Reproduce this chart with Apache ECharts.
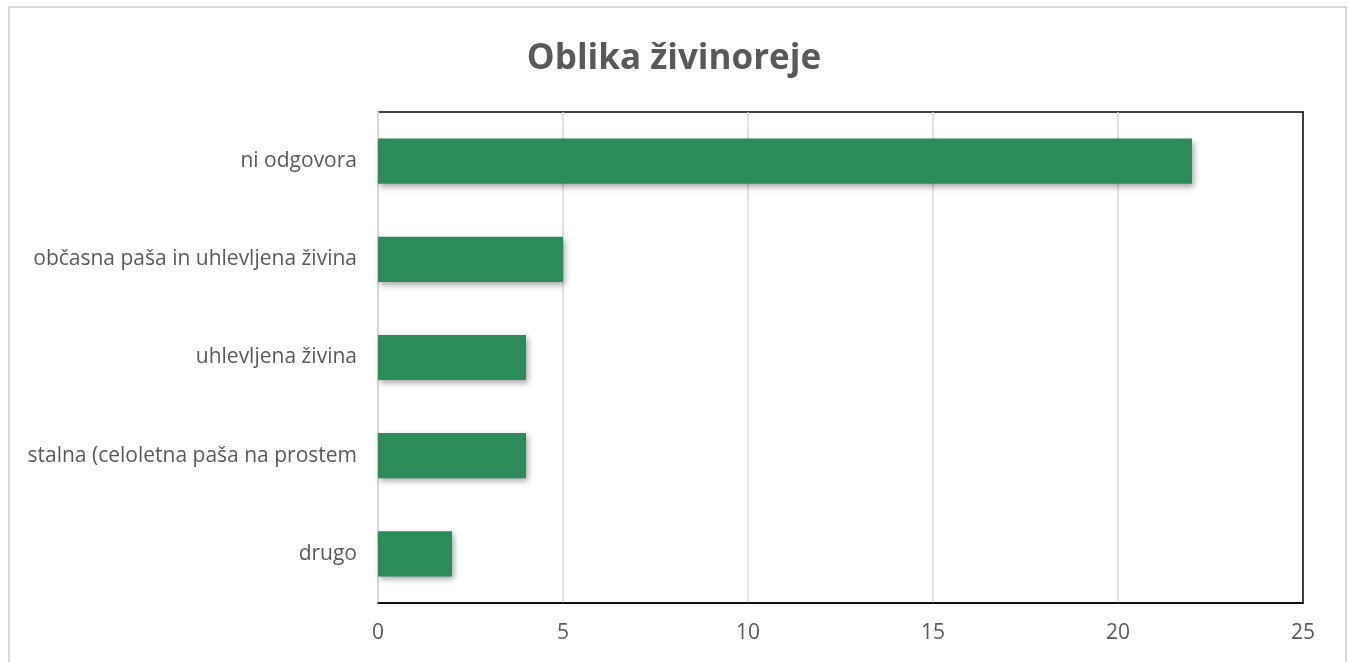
<!DOCTYPE html>
<html>
<head>
<meta charset="utf-8">
<script src="https://cdn.jsdelivr.net/npm/echarts@6/dist/echarts.min.js"></script>
<style>
  html, body { margin: 0; padding: 0; background: #fff; }
  #chart { width: 1348px; height: 662px; }
</style>
</head>
<body>
<div id="chart"></div>
<script>
const categories = [
  "ni odgovora",
  "občasna paša in uhlevljena živina",
  "uhlevljena živina",
  "stalna (celoletna paša na prostem",
  "drugo"
];
const values = [22, 5, 4, 4, 2];

const chart = echarts.init(document.getElementById("chart"));

chart.setOption({
  animation: false,
  textStyle: { fontFamily: "Open Sans" },
  title: {
    text: "Oblika živinoreje",
    left: "center",
    top: 37,
    textStyle: { fontSize: 35, fontWeight: "bold", color: "#595959", fontFamily: "Open Sans" }
  },
  graphic: [
    {
      type: "rect",
      silent: true,
      shape: { x: 9, y: 7, width: 1337, height: 700 },
      style: { fill: "none", stroke: "#d9d9d9", lineWidth: 2 }
    }
  ],
  grid: {
    left: 378,
    right: 45,
    top: 112,
    bottom: 59,
    show: true,
    borderColor: "#000",
    borderWidth: 1.5
  },
  xAxis: {
    type: "value",
    min: 0,
    max: 25,
    interval: 5,
    axisLine: { show: true, lineStyle: { color: "#000", width: 1.5 } },
    axisTick: { show: false },
    splitLine: { showMinLine: false, showMaxLine: false, lineStyle: { color: "#d9d9d9", width: 1.5 } },
    axisLabel: { fontSize: 21, color: "#595959", margin: 20 }
  },
  yAxis: {
    type: "category",
    inverse: true,
    data: categories,
    axisLine: { show: true, lineStyle: { color: "#d9d9d9", width: 2 } },
    axisTick: { show: false },
    axisLabel: { fontSize: 21, color: "#595959", margin: 21 }
  },
  series: [
    {
      type: "bar",
      data: values,
      barWidth: "46%",
      itemStyle: {
        color: "#2b8c5a",
        shadowColor: "rgba(0,0,0,0.35)",
        shadowBlur: 6,
        shadowOffsetX: 2,
        shadowOffsetY: 3
      }
    }
  ]
});
</script>
</body>
</html>
